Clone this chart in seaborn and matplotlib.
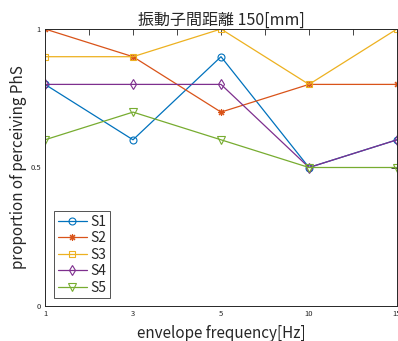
import matplotlib
matplotlib.use("Agg")
import matplotlib.pyplot as plt
import seaborn as sns
import pandas as pd

# envelope frequencies (Hz) shown as evenly spaced categories
freq_labels = ["1", "3", "5", "10", "15"]
positions = [1, 2, 3, 4, 5]

s1 = [0.8, 0.6, 0.9, 0.5, 0.6]
s2 = [1.0, 0.9, 0.7, 0.8, 0.8]
s3 = [0.9, 0.9, 1.0, 0.8, 1.0]
s4 = [0.8, 0.8, 0.8, 0.5, 0.6]
s5 = [0.6, 0.7, 0.6, 0.5, 0.5]

names = ["S1", "S2", "S3", "S4", "S5"]
series = [s1, s2, s3, s4, s5]
colors = ["#0072BD", "#D95319", "#EDB120", "#7E2F8E", "#77AC30"]
markers = ["o", (8, 2, 0), "s", "d", "v"]
msizes = [5, 5, 5, 5.5, 5.5]

sns.set_style("white")
plt.rcParams["font.family"] = ["Noto Sans CJK JP", "DejaVu Sans"]

fig = plt.figure(figsize=(3.98, 3.41), dpi=100)
ax = fig.add_axes([45 / 398, 1 - 306 / 341, 352 / 398, 277 / 341])

for name, vals, c, m, ms in zip(names, series, colors, markers, msizes):
    df = pd.DataFrame({"x": positions, "y": vals})
    sns.lineplot(data=df, x="x", y="y", ax=ax, color=c, marker=m,
                 markersize=ms, markerfacecolor="none", markeredgecolor=c,
                 markeredgewidth=0.8, linewidth=0.9, label=name)

# minor ticks halfway between categories, labels on the categories
ax.set_xlim(1, 5)
ax.set_ylim(0, 1)
tick_pos = [1, 1.5, 2, 2.5, 3, 3.5, 4, 4.5, 5]
tick_lab = []
for p in tick_pos:
    tick_lab.append(freq_labels[positions.index(p)] if p in positions else "")
ax.set_xticks(tick_pos)
ax.set_xticklabels(tick_lab)
ax.set_yticks([0, 0.5, 1])
ax.set_yticklabels(["0", "0.5", "1"])
ax.tick_params(direction="in", length=4, width=0.6, labelsize=5.5,
               top=True, right=True, colors="#262626", pad=3)
for sp in ax.spines.values():
    sp.set_visible(True)
    sp.set_color("#262626")
    sp.set_linewidth(0.7)

ax.set_xlabel("envelope frequency[Hz]", fontsize=11, color="#262626", labelpad=5)
ax.set_ylabel("proportion of perceiving PhS", fontsize=11, color="#262626", labelpad=2)
ax.set_title("振動子間距離 150[mm]", fontsize=11.5, color="#262626", pad=3)

leg = ax.legend(loc="lower left", bbox_to_anchor=(0.026, 0.028), fontsize=10,
                frameon=True, fancybox=False, edgecolor="#262626",
                borderaxespad=0, handlelength=2.1, handletextpad=0.25,
                labelspacing=0.18, borderpad=0.25)
leg.get_frame().set_linewidth(0.7)

fig.savefig("out.png", dpi=100)
